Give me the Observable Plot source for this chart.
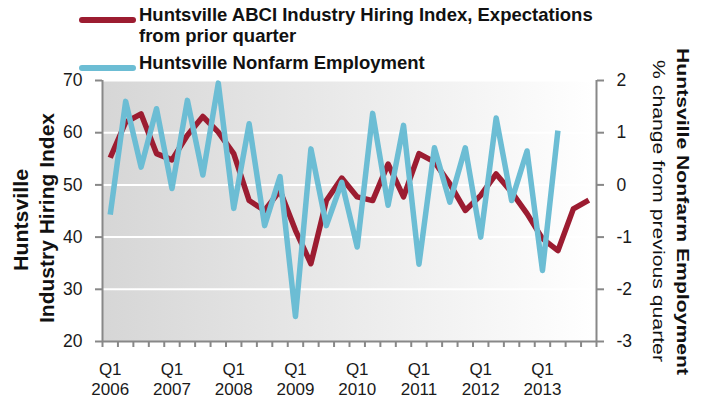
<!DOCTYPE html>
<html>
<head>
<meta charset="utf-8">
<script src="https://cdn.jsdelivr.net/npm/d3@7"></script>
<script src="https://cdn.jsdelivr.net/npm/@observablehq/plot@0.6"></script>
<style>
  html, body { margin: 0; padding: 0; background: #fff; }
  #wrap { position: relative; width: 710px; height: 400px; font-family: "Liberation Sans", Arial, sans-serif; }
  #legend { position: absolute; left: 0; top: 0; width: 710px; height: 80px; pointer-events: none; }
  .sw { position: absolute; left: 79px; width: 57px; height: 6px; border-radius: 3px; }
  .lt { position: absolute; left: 139px; font-weight: bold; font-size: 18.5px; line-height: 21px; color: #111; white-space: nowrap; }
</style>
</head>
<body>
<div id="wrap">
  <div id="chart"></div>
  <div id="legend"></div>
</div>
<script>
// ---- Data ----
const quarters = [
  "2006 Q1","2006 Q2","2006 Q3","2006 Q4",
  "2007 Q1","2007 Q2","2007 Q3","2007 Q4",
  "2008 Q1","2008 Q2","2008 Q3","2008 Q4",
  "2009 Q1","2009 Q2","2009 Q3","2009 Q4",
  "2010 Q1","2010 Q2","2010 Q3","2010 Q4",
  "2011 Q1","2011 Q2","2011 Q3","2011 Q4",
  "2012 Q1","2012 Q2","2012 Q3","2012 Q4",
  "2013 Q1","2013 Q2","2013 Q3","2013 Q4"
];
// Huntsville ABCI Industry Hiring Index (left axis)
const hiringIndex = [
  55.2, 62.0, 63.6, 56.0, 54.8, 59.5, 63.1, 60.1,
  56.0, 47.0, 45.1, 48.9, 41.3, 34.9, 47.0, 51.3,
  47.7, 47.0, 54.0, 47.7, 56.0, 54.4, 50.2, 45.1,
  48.0, 52.1, 48.6, 44.5, 39.7, 37.4, 45.4, 47.1
];
// Huntsville Nonfarm Employment, % change from previous quarter (right axis)
const employment = [
  -0.57, 1.60, 0.34, 1.46, -0.07, 1.62, 0.19, 1.95,
  -0.45, 1.17, -0.78, 0.16, -2.52, 0.69, -0.78, 0.05,
  -1.19, 1.37, -0.39, 1.14, -1.52, 0.71, -0.33, 0.71,
  -1.00, 1.28, -0.30, 0.65, -1.64, 1.04
];
const leftTicks = [20, 30, 40, 50, 60, 70];
const rightTicks = [-3, -2, -1, 0, 1, 2];
const yearLabels = ["2006","2007","2008","2009","2010","2011","2012","2013"];

const seriesNames = [
  "Huntsville ABCI Industry Hiring Index, Expectations\nfrom prior quarter",
  "Huntsville Nonfarm Employment"
];
const leftTitle = ["Huntsville", "Industry Hiring Index"];
const rightTitle = ["Huntsville Nonfarm Employment", "% change from previous quarter"];
const colors = ["#9c1c31", "#6cbdd4"];

// ---- Build tables ----
const hiringRows = hiringIndex.map((v, i) => ({i, q: quarters[i], v}));
// right axis maps [-3, 2] onto left axis [20, 70]
const toLeft = p => 50 + 10 * p;
const fromLeft = y => (y - 50) / 10;
const empRows = employment.map((p, i) => ({i, q: quarters[i], v: toLeft(p)}));
const q1Index = quarters.map((q, i) => q.endsWith("Q1") ? i : -1).filter(i => i >= 0);
const edges = quarters.map((q, i) => i - 0.5).concat([quarters.length - 0.5]);

const gray = "#888888";
const FONT = "'Liberation Sans', Arial, sans-serif";

const bgMark = (index, scales, values, dims) => {
  const g = d3.create("svg:g");
  const grad = g.append("defs").append("linearGradient")
    .attr("id", "bggrad").attr("x1", 0).attr("x2", 1).attr("y1", 0).attr("y2", 0);
  grad.append("stop").attr("offset", "0%").attr("stop-color", "#d6d6d6");
  grad.append("stop").attr("offset", "100%").attr("stop-color", "#ffffff");
  g.append("rect")
    .attr("x", dims.marginLeft).attr("y", dims.marginTop)
    .attr("width", dims.width - dims.marginLeft - dims.marginRight)
    .attr("height", dims.height - dims.marginTop - dims.marginBottom)
    .attr("fill", "url(#bggrad)");
  return g.node();
};

// axis titles (rotated, stretched to the lengths seen in the reference)
const titleMark = (index, scales, values, dims) => {
  const g = d3.create("svg:g").attr("font-family", FONT).attr("fill", "#111");
  const add = (text, x, y, rot, size, weight, len) =>
    g.append("text")
      .attr("transform", `translate(${x},${y}) rotate(${rot})`)
      .attr("text-anchor", "middle")
      .attr("font-size", size)
      .attr("font-weight", weight)
      .attr("textLength", len)
      .attr("lengthAdjust", "spacingAndGlyphs")
      .text(text);
  const L = dims.marginLeft, R = dims.width - dims.marginRight;
  add(leftTitle[0], L - 74, 220, -90, 20, "bold", 102);
  add(leftTitle[1], L - 48, 218, -90, 20, "bold", 210);
  add(rightTitle[0], R + 81, 211.5, 90, 17, "bold", 327);
  add(rightTitle[1], R + 57, 211, 90, 17, "normal", 302);
  return g.node();
};

const chart = Plot.plot({
  width: 710,
  height: 400,
  marginLeft: 102,
  marginRight: 114,
  marginTop: 80,
  marginBottom: 59,
  style: {fontFamily: FONT, fontSize: "17px", color: "#1a1a1a", background: "transparent", overflow: "visible"},
  x: {type: "linear", domain: [-0.5, quarters.length - 0.5]},
  y: {domain: [20, 70]},
  marks: [
    bgMark,
    Plot.ruleY([30, 40, 50, 60, 70], {stroke: "#ffffff", strokeWidth: 2}),
    Plot.ruleX([-0.5, quarters.length - 0.5], {stroke: gray, strokeWidth: 2}),
    Plot.ruleY([20], {stroke: gray, strokeWidth: 2}),
    Plot.axisY({anchor: "left", ticks: leftTicks, tickSize: 7, tickPadding: 13, stroke: gray, strokeWidth: 2, fill: "#1a1a1a", fontSize: 17.5, label: null}),
    Plot.axisY({anchor: "right", ticks: rightTicks.map(toLeft), tickFormat: d => String(fromLeft(d)), tickSize: 7, tickPadding: 13, stroke: gray, strokeWidth: 2, fill: "#1a1a1a", fontSize: 17.5, label: null}),
    Plot.axisX({ticks: edges, tickSize: 6, tickFormat: () => "", stroke: gray, strokeWidth: 2, label: null}),
    Plot.axisX({ticks: q1Index, tickSize: 0, tickPadding: 19, tickFormat: i => "Q1\n" + yearLabels[q1Index.indexOf(i)], lineHeight: 1.2, fill: "#1a1a1a", fontSize: 17, label: null}),
    Plot.line(hiringRows, {x: "i", y: "v", stroke: colors[0], strokeWidth: 5.5, strokeLinejoin: "round", strokeLinecap: "butt"}),
    Plot.line(empRows, {x: "i", y: "v", stroke: colors[1], strokeWidth: 5.5, strokeLinejoin: "round", strokeLinecap: "butt"}),
    titleMark
  ]
});
document.getElementById("chart").appendChild(chart);

// ---- Legend ----
const legend = document.getElementById("legend");
const swTops = [17, 64.5];
const txtTops = [3.8, 52.4];
seriesNames.forEach((name, k) => {
  const sw = document.createElement("div");
  sw.className = "sw";
  sw.style.top = swTops[k] + "px";
  sw.style.background = colors[k];
  legend.appendChild(sw);
  const t = document.createElement("div");
  t.className = "lt";
  t.style.top = txtTops[k] + "px";
  t.innerHTML = name.split("\n").join("<br>");
  legend.appendChild(t);
});
</script>
</body>
</html>
